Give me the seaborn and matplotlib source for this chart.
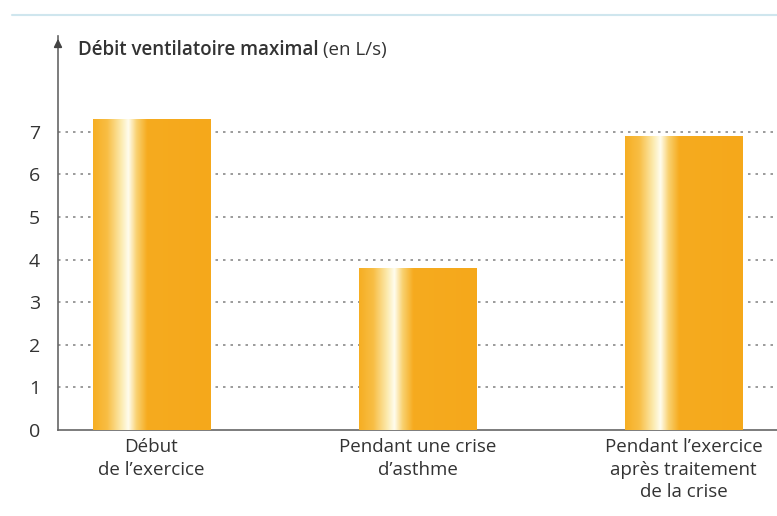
import numpy as np
import pandas as pd
import matplotlib
matplotlib.use("Agg")
import matplotlib.pyplot as plt
from matplotlib.colors import LinearSegmentedColormap
import seaborn as sns

categories = ["Début\nde l’exercice", "Pendant une crise\nd’asthme",
              "Pendant l’exercice\naprès traitement\nde la crise"]
values = [7.3, 3.8, 6.9]
yticks = [0, 1, 2, 3, 4, 5, 6, 7]

sns.set_style("white")
plt.rcParams["font.family"] = ["Open Sans", "DejaVu Sans"]
txt = "#333333"

df = pd.DataFrame({"cat": categories, "val": values})

fig = plt.figure(figsize=(7.77, 5.16), dpi=100)
ax = fig.add_axes([58 / 777, 1 - 430 / 516, 1 - 58 / 777, (430 - 36) / 516])
sns.barplot(data=df, x="cat", y="val", color="#F5A81C", width=0.44, ax=ax,
            edgecolor="none", zorder=3)

# gradient fill on each bar
grad = LinearSegmentedColormap.from_list("bar", [
    (0.0, "#F6AE22"), (0.12, "#F8BE45"), (0.24, "#FCEBB0"), (0.30, "#FFFDEE"),
    (0.37, "#F9D170"), (0.46, "#F6AB1F"), (1.0, "#F5A81B")])
row = np.linspace(0, 1, 256).reshape(1, -1)
for p in ax.patches:
    x0, y0 = p.get_x(), p.get_y()
    w, h = p.get_width(), p.get_height()
    im = ax.imshow(row, cmap=grad, aspect="auto", extent=[x0, x0 + w, y0, y0 + h],
                   zorder=4)
    im.set_clip_path(p)

ax.set_xlim(-0.35, 2.35)
ax.set_ylim(0, 9.25)
ax.set_yticks(yticks)
ax.set_yticklabels([str(t) for t in yticks], fontsize=14, color=txt)
for y in yticks[1:]:
    ax.axhline(y, color="#8a8a8a", lw=1.2, ls=(0, (1.5, 3)), zorder=1)

ax.set_xticks([0.5, 1.5], minor=True)
ax.tick_params(axis="x", which="minor", length=5, width=1, color="#777777", direction="in")
ax.tick_params(axis="x", which="major", length=0, pad=6)
ax.tick_params(axis="y", length=8, width=1, color="#777777", direction="inout", pad=9)
ax.set_xticks(range(len(categories)))
ax.set_xticklabels(categories, fontsize=13.5, color=txt, linespacing=1.3)
ax.set_xlabel("")
ax.set_ylabel("")

for s in ["top", "right"]:
    ax.spines[s].set_visible(False)
for s in ["left", "bottom"]:
    ax.spines[s].set_color("#666666")
    ax.spines[s].set_linewidth(1.2)

# arrow on y axis
ax.annotate("", xy=(0, 1.0), xytext=(0, 0.97), xycoords="axes fraction",
            arrowprops=dict(arrowstyle="-|>", color="#444444", lw=1.2,
                            mutation_scale=12))

t = fig.text(78 / 777, 1 - 50 / 516, "Débit ventilatoire maximal", fontsize=13.5,
             fontweight="semibold", color=txt, va="center", ha="left")
fig.canvas.draw()
bb = t.get_window_extent()
fig.text(bb.x1 / 777 + 0.006, 1 - 50 / 516, "(en L/s)", fontsize=13.5, color=txt,
         va="center", ha="left")

# thin frame line at the top
fig.add_artist(plt.Line2D([12 / 777, 1], [1 - 15 / 516, 1 - 15 / 516],
                          color="#cfe6ee", lw=1.5))

fig.savefig("out.png", dpi=100)
